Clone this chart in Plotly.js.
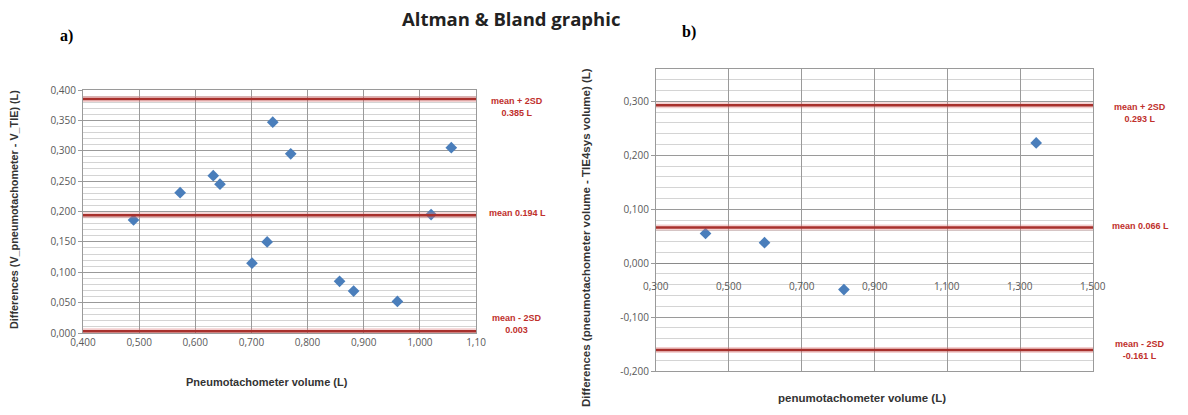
<!DOCTYPE html>
<html>
<head>
<meta charset="utf-8">
<script src="https://cdn.plot.ly/plotly-3.0.1.min.js"></script>
<style>html,body{margin:0;padding:0;background:#fff;}#chart{width:1188px;height:415px;}</style>
</head>
<body>
<div id="chart"></div>
<script>
// ---- data: chart a ----
const volA = [0.490, 0.573, 0.632, 0.644, 0.701, 0.728, 0.738, 0.770, 0.857, 0.882, 0.960, 1.020, 1.056];
const diffA = [0.186, 0.231, 0.259, 0.245, 0.115, 0.150, 0.347, 0.295, 0.085, 0.069, 0.052, 0.195, 0.305];
const limitsA = [0.385, 0.194, 0.003];
const limitLabelsA = ["mean + 2SD<br>0.385 L", "mean 0.194 L", "mean - 2SD<br>0.003"];
const xTickValsA = [0.4, 0.5, 0.6, 0.7, 0.8, 0.9, 1.0, 1.1];
const xTickTextA = ["0,400", "0,500", "0,600", "0,700", "0,800", "0,900", "1,000", "1,10"];
const yTickValsA = [0, 0.05, 0.1, 0.15, 0.2, 0.25, 0.3, 0.35, 0.4];
const yTickTextA = ["0,000", "0,050", "0,100", "0,150", "0,200", "0,250", "0,300", "0,350", "0,400"];

// ---- data: chart b ----
const volB = [0.436, 0.598, 0.816, 1.344];
const diffB = [0.055, 0.038, -0.049, 0.223];
const limitsB = [0.293, 0.066, -0.161];
const limitLabelsB = ["mean + 2SD<br>0.293 L", "mean 0.066 L", "mean - 2SD<br>-0.161 L"];
const xTickValsB = [0.3, 0.5, 0.7, 0.9, 1.1, 1.3, 1.5];
const xTickTextB = ["0,300", "0,500", "0,700", "0,900", "1,100", "1,300", "1,500"];
const yTickValsB = [-0.2, -0.1, 0, 0.1, 0.2, 0.3];
const yTickTextB = ["-0,200", "-0,100", "0,000", "0,100", "0,200", "0,300"];

const W = 1188, H = 415;
const px = v => v / W, py = v => 1 - v / H;

const marker = {symbol: 'diamond', size: 9, color: '#4a7ebb', line: {width: 0}};
const traces = [
  {type: 'scatter', mode: 'markers', x: volA, y: diffA, xaxis: 'x', yaxis: 'y', marker: marker, hoverinfo: 'x+y'},
  {type: 'scatter', mode: 'markers', x: volB, y: diffB, xaxis: 'x2', yaxis: 'y2', marker: marker, hoverinfo: 'x+y'}
];

const tickFont = {family: 'Open Sans, Liberation Sans, sans-serif', size: 10, color: '#595959'};
const gridMajor = '#9a9a9a';
const gridMinor = '#d4d4d4';

const shapes = [];
function addLimitLines(vals, xr, yr) {
  vals.forEach(v => {
    shapes.push({type: 'line', xref: xr + ' domain', yref: yr, x0: 0, x1: 1, y0: v, y1: v,
      line: {color: 'rgba(220,120,120,0.35)', width: 6}, layer: 'above'});
    shapes.push({type: 'line', xref: xr + ' domain', yref: yr, x0: 0, x1: 1, y0: v, y1: v,
      line: {color: '#a8302c', width: 2.5}, layer: 'above'});
  });
}
addLimitLines(limitsA, 'x', 'y');
addLimitLines(limitsB, 'x2', 'y2');

const redFont = {family: 'Liberation Sans, sans-serif', size: 9, color: '#c0302c'};
const annotations = [];
function ann(o) { annotations.push(Object.assign({showarrow: false, xanchor: 'center', yanchor: 'middle'}, o)); }
limitsA.forEach((v, i) => {
  ann({xref: 'paper', yref: 'y', x: px(517), y: v, text: '<b>' + limitLabelsA[i] + '</b>', font: redFont,
    yshift: i === 1 ? 2 : (i === 0 ? -8 : 7)});
});
limitsB.forEach((v, i) => {
  ann({xref: 'paper', yref: 'y2', x: px(1140), y: v, text: '<b>' + limitLabelsB[i] + '</b>', font: redFont,
    yshift: i === 1 ? 2 : (i === 0 ? -8 : 0)});
});
// x tick labels of chart b sit just below the y = 0 line
xTickValsB.forEach((v, i) => {
  ann({xref: 'x2', yref: 'y2', x: v, y: 0, text: xTickTextB[i], font: tickFont, yshift: -23});
});
// titles
ann({xref: 'paper', yref: 'paper', x: px(511), y: py(18), text: '<b>Altman & Bland graphic</b>',
  font: {family: 'Open Sans, Liberation Sans, sans-serif', size: 18.5, color: '#222'}});
ann({xref: 'paper', yref: 'paper', x: px(66), y: py(36), text: '<b>a)</b>',
  font: {family: 'Liberation Serif, serif', size: 16, color: '#000'}});
ann({xref: 'paper', yref: 'paper', x: px(689), y: py(32), text: '<b>b)</b>',
  font: {family: 'Liberation Serif, serif', size: 16, color: '#000'}});
const axTitleFont = s => ({family: 'Liberation Sans, sans-serif', size: s, color: '#333'});
ann({xref: 'paper', yref: 'paper', x: px(267), y: py(382), text: '<b>Pneumotachometer volume (L)</b>', font: axTitleFont(11)});
ann({xref: 'paper', yref: 'paper', x: px(862), y: py(398), text: '<b>penumotachometer volume (L)</b>', font: axTitleFont(11.5)});
ann({xref: 'paper', yref: 'paper', x: px(14), y: py(210), textangle: -90,
  text: '<b>Differences (V_pneumotachometer - V_TIE) (L)</b>', font: axTitleFont(10.8)});
ann({xref: 'paper', yref: 'paper', x: px(586), y: py(238), textangle: -90,
  text: '<b>Differences (pneumotachometer volume - TIE4sys volume) (L)</b>', font: axTitleFont(11.5)});

const layout = {
  width: W, height: H,
  margin: {l: 0, r: 0, t: 0, b: 0},
  paper_bgcolor: '#fff', plot_bgcolor: '#fff',
  showlegend: false,
  xaxis: {domain: [px(83), px(476)], range: [0.4, 1.1], tickmode: 'array', tickvals: xTickValsA, ticktext: xTickTextA,
    showgrid: true, gridcolor: gridMajor, gridwidth: 1, zeroline: false, showline: true, linecolor: gridMajor, mirror: true,
    ticks: '', tickfont: tickFont, anchor: 'y', fixedrange: true},
  yaxis: {domain: [py(333), py(90)], range: [0, 0.4], tickmode: 'array', tickvals: yTickValsA, ticktext: yTickTextA,
    showgrid: true, gridcolor: gridMajor, zeroline: false, showline: true, linecolor: gridMajor, mirror: true,
    ticks: 'outside', ticklen: 4, tickcolor: gridMajor, tickfont: tickFont, anchor: 'x',
    minor: {dtick: 0.01, showgrid: true, gridcolor: gridMinor, ticks: ''}, fixedrange: true},
  xaxis2: {domain: [px(656), px(1093)], range: [0.3, 1.5], tickmode: 'array', tickvals: xTickValsB,
    showticklabels: false, showgrid: true, gridcolor: gridMajor, zeroline: false, showline: true, linecolor: gridMajor,
    mirror: true, ticks: '', anchor: 'y2', fixedrange: true},
  yaxis2: {domain: [py(371), py(69)], range: [-0.2, 0.36], tickmode: 'array', tickvals: yTickValsB, ticktext: yTickTextB,
    showgrid: true, gridcolor: gridMajor, zeroline: true, zerolinecolor: '#8a8a8a', zerolinewidth: 1,
    showline: true, linecolor: gridMajor, mirror: true,
    ticks: 'outside', ticklen: 4, tickcolor: gridMajor, tickfont: tickFont, anchor: 'x2',
    minor: {dtick: 0.02, tick0: 0, showgrid: true, gridcolor: gridMinor, ticks: ''}, fixedrange: true},
  shapes: shapes,
  annotations: annotations
};

Plotly.newPlot('chart', traces, layout, {displayModeBar: false, staticPlot: true});
</script>
</body>
</html>
